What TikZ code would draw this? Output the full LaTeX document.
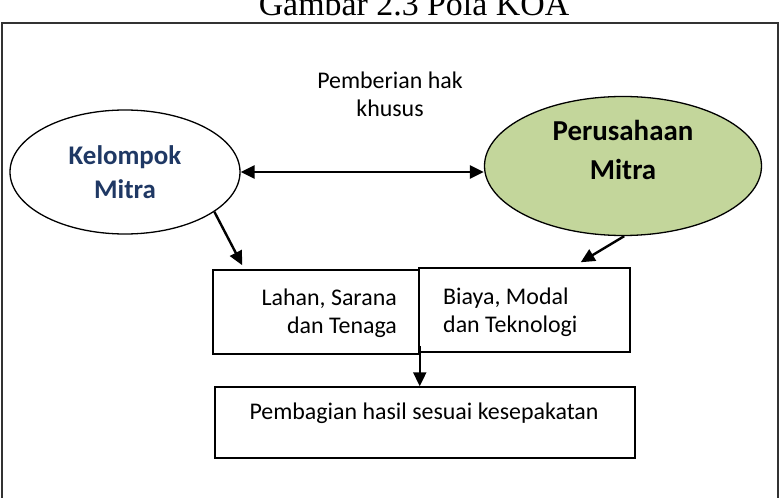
\documentclass[tikz,border=0pt]{standalone}
\usepackage{fontspec}
\setmainfont{Carlito}
\newfontfamily\titlefont{Liberation Serif}
\usetikzlibrary{shapes.geometric,arrows.meta,calc}
\definecolor{kblue}{RGB}{31,56,100}
\definecolor{pgreen}{RGB}{195,214,155}
\definecolor{framegray}{RGB}{50,50,50}
\tikzset{
  ell/.style={ellipse, draw=black, line width=1.3bp, inner sep=0pt, align=center,
    font=\fontsize{27}{34}\selectfont\bfseries},
  boxnode/.style={draw=black, line width=1.5bp, inner sep=0pt},
  txt/.style={font=\fontsize{24}{28}\selectfont, inner sep=0pt},
  arr/.style={line width=2.4bp, -{Triangle[length=14bp,width=13bp]}},
  darr/.style={line width=2.4bp, {Triangle[length=14bp,width=13bp]}-{Triangle[length=14bp,width=13bp]}}
}
\begin{document}
\begin{tikzpicture}[x=1bp,y=-1bp]
\useasboundingbox (0,0) rectangle (781,498);
\clip (0,0) rectangle (781,498);
\fill[white] (0,0) rectangle (781,498);
\node[anchor=base, inner sep=0pt, font=\titlefont\fontsize{34}{40}\selectfont] (title) at (414,16) {Gambar 2.3 Pola KOA};
\draw[framegray, line width=2bp] (2,23) rectangle (778,520);
% ellipses
\node[ell, text=kblue, minimum width=230bp, minimum height=124bp] (km) at (125,172) {Kelompok\\Mitra};
\node[ell, fill=pgreen, minimum width=277bp, minimum height=139bp] (pm) at (623,166) {};
\node[inner sep=0pt, align=center, font=\fontsize{29}{40}\selectfont\bfseries] (pmt) at (623,150) {Perusahaan\\Mitra};
% label
\node[txt, align=center] (hak) at (390,94) {Pemberian hak\\khusus};
% boxes
\node[boxnode, minimum width=206bp, minimum height=84bp] (lb) at (316,312) {};
\node[boxnode, minimum width=211bp, minimum height=84bp] (rb) at (524.5,310) {};
\node[boxnode, minimum width=420bp, minimum height=71bp] (bb) at (425,422.5) {};
\node[txt, align=right, anchor=east] (lt) at (397,313) {Lahan, Sarana\\dan Tenaga};
\node[txt, align=left, anchor=west] (rt) at (443,312) {Biaya, Modal\\dan Teknologi};
\node[txt] (bt) at (424,413) {Pembagian hasil sesuai kesepakatan};
% connectors
\draw[darr] (km.east) -- (km.east -| pm.west);
\draw[arr] (km.-24) -- ($(lb.north west)+(30,-4)$);
\draw[arr] (pm.-89) -- ($(rb.north east)+(-50,-5)$);
\draw[arr] ($(lb.south east)+(0,-9)$) -- (lb.south east |- bb.north);
\end{tikzpicture}
\end{document}
